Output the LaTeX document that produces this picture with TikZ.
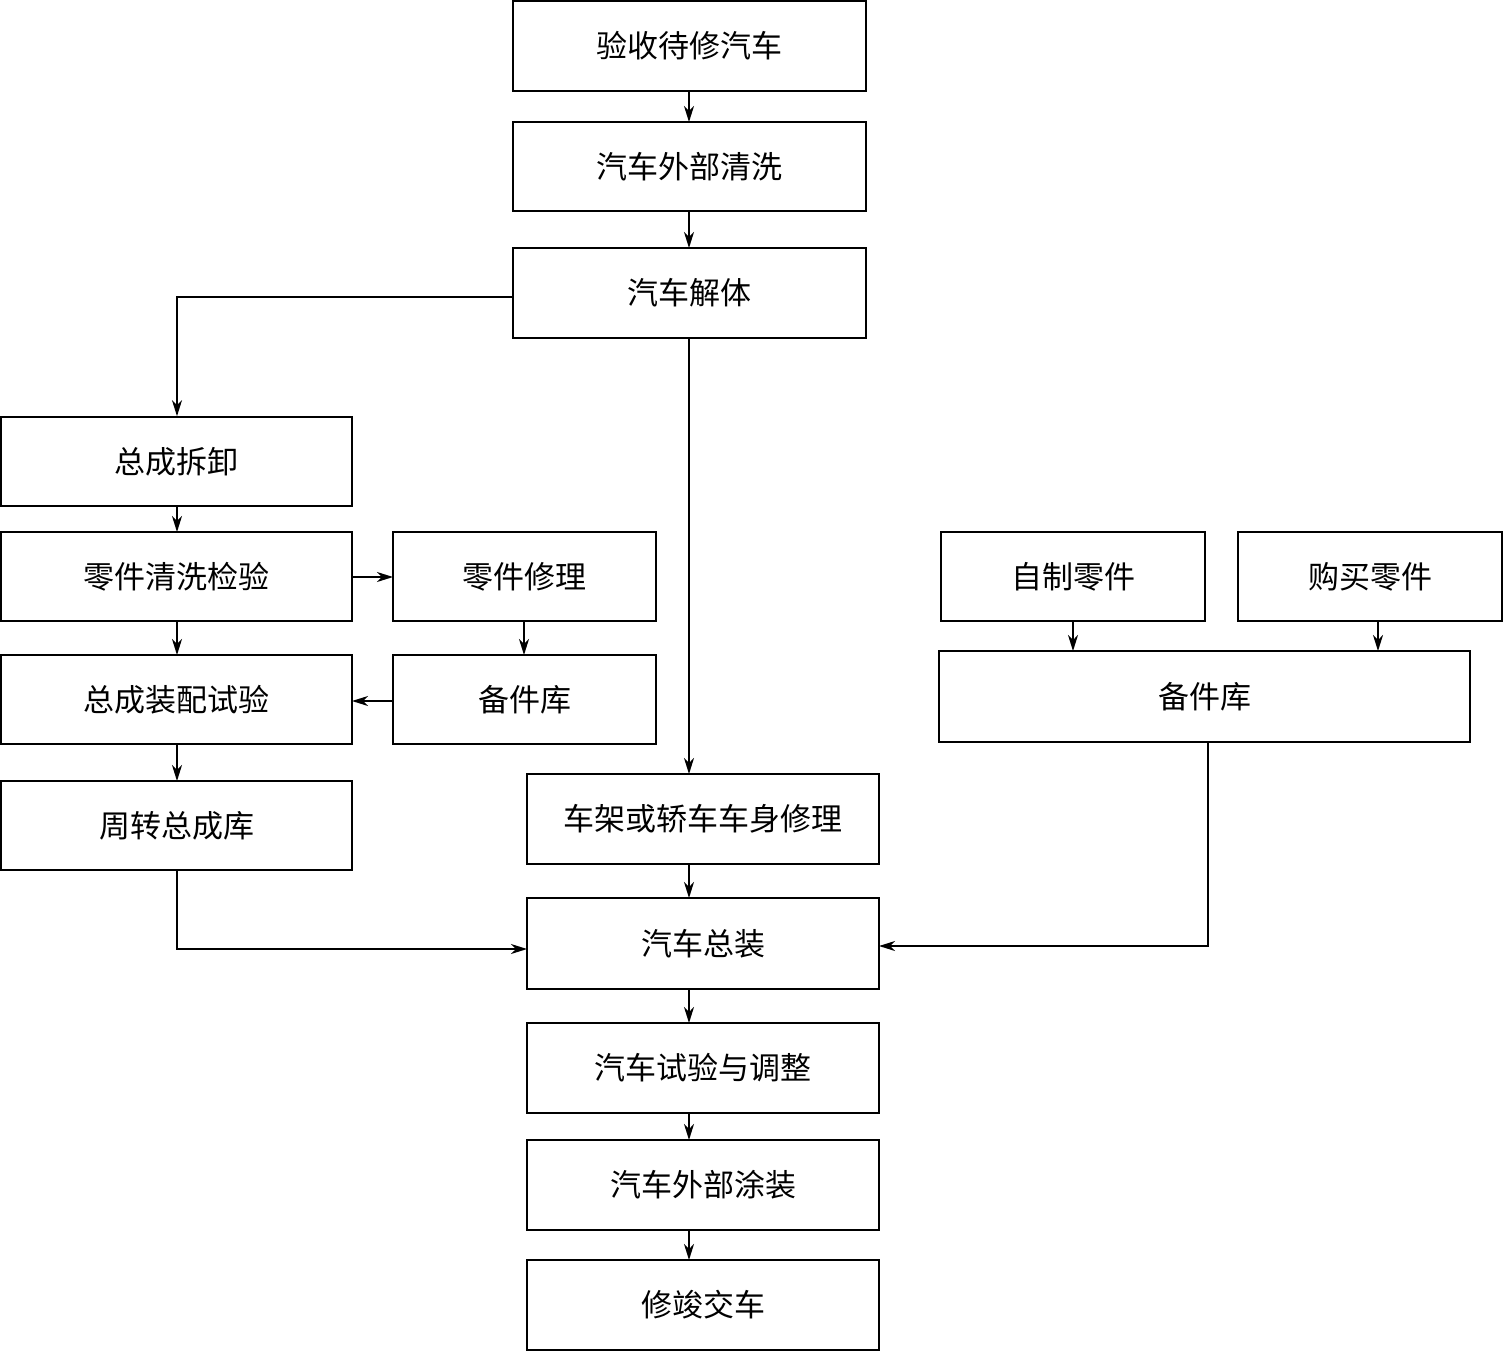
\documentclass[tikz,border=0pt]{standalone}
\usepackage{fontspec}
\newfontfamily\cjk{Noto Sans CJK SC}
\usetikzlibrary{arrows.meta}
\begin{document}
\begin{tikzpicture}[x=1pt,y=-1pt,
  box/.style={draw,line width=1.6pt,inner sep=0pt,font=\cjk\fontsize{31}{36}\selectfont},
  conn/.style={line width=1.6pt,-{Stealth[length=16pt,width=10pt,inset=5pt]}}]
\useasboundingbox (0,0) rectangle (1504,1352);
\newcommand{\bx}[6]{\node[box,minimum width=#4-#2,minimum height=#5-#3] (#1) at ({(#2+#4)/2},{(#3+#5)/2}) {#6};}
\bx{a}{513}{1}{866}{91}{验收待修汽车}
\bx{b}{513}{122}{866}{211}{汽车外部清洗}
\bx{c}{513}{248}{866}{338}{汽车解体}
\bx{d}{1}{417}{352}{506}{总成拆卸}
\bx{e}{1}{532}{352}{621}{零件清洗检验}
\bx{f}{393}{532}{656}{621}{零件修理}
\bx{g}{1}{655}{352}{744}{总成装配试验}
\bx{h}{393}{655}{656}{744}{备件库}
\bx{i}{1}{781}{352}{870}{周转总成库}
\bx{j}{941}{532}{1205}{621}{自制零件}
\bx{k}{1238}{532}{1502}{621}{购买零件}
\bx{l}{939}{651}{1470}{742}{备件库}
\bx{m}{527}{774}{879}{864}{车架或轿车车身修理}
\bx{n}{527}{898}{879}{989}{汽车总装}
\bx{o}{527}{1023}{879}{1113}{汽车试验与调整}
\bx{p}{527}{1140}{879}{1230}{汽车外部涂装}
\bx{q}{527}{1260}{879}{1350}{修竣交车}
\draw[conn] (689,91) -- (689,122);
\draw[conn] (689,211) -- (689,248);
\draw[conn] (c.west |- 0,297) -| (d.north -| 177,0);
\draw[conn] (689,338) -- (689,774);
\draw[conn] (177,506) -- (177,532);
\draw[conn] (352,577) -- (393,577);
\draw[conn] (177,621) -- (177,655);
\draw[conn] (524,621) -- (524,655);
\draw[conn] (393,701) -- (352,701);
\draw[conn] (177,744) -- (177,781);
\draw[conn] (177,870) |- (527,949);
\draw[conn] (1073,621) -- (1073,651);
\draw[conn] (1378,621) -- (1378,651);
\draw[conn] (1208,742) |- (879,946);
\draw[conn] (689,864) -- (689,898);
\draw[conn] (689,989) -- (689,1023);
\draw[conn] (689,1113) -- (689,1140);
\draw[conn] (689,1230) -- (689,1260);
\end{tikzpicture}
\end{document}
